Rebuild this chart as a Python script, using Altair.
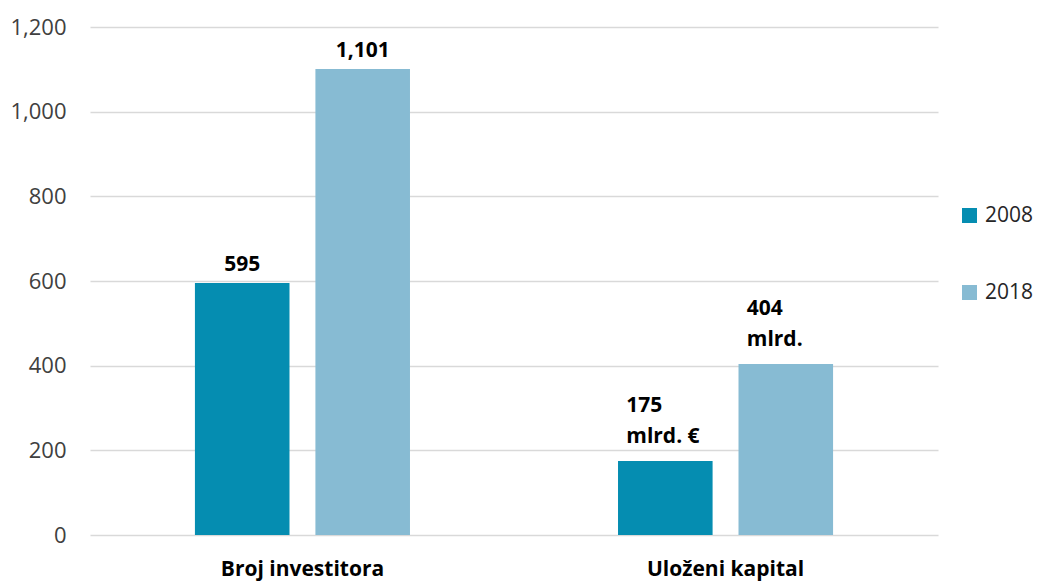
import altair as alt
import pandas as pd

categories = ["Broj investitora", "Uloženi kapital"]
years = ["2008", "2018"]
values_2008 = [595, 175]
values_2018 = [1101, 404]
labels_2008 = ["595", "175\nmlrd. €"]
labels_2018 = ["1,101", "404\nmlrd."]
colors = ["#058db1", "#87bbd3"]
y_ticks = [0, 200, 400, 600, 800, 1000, 1200]

rows = []
for i, c in enumerate(categories):
    rows.append({"cat": c, "year": years[0], "value": values_2008[i], "label": labels_2008[i]})
    rows.append({"cat": c, "year": years[1], "value": values_2018[i], "label": labels_2018[i]})
df = pd.DataFrame(rows)
df["multi"] = df["label"].str.contains("\n")

FONT = "Open Sans"

base = alt.Chart(df).encode(
    x=alt.X(
        "cat:N",
        sort=categories,
        scale=alt.Scale(paddingInner=0.4917, paddingOuter=0.248),
        axis=alt.Axis(
            title=None, labelAngle=0, domain=False, ticks=False, grid=False,
            labelFont=FONT, labelFontWeight="bold", labelFontSize=21,
            labelColor="black", labelPadding=23, labelBaseline="top",
        ),
    ),
    xOffset=alt.XOffset("year:N", sort=years, scale=alt.Scale(paddingInner=0.215)),
    y=alt.Y(
        "value:Q",
        scale=alt.Scale(domain=[0, 1200], nice=False),
        axis=alt.Axis(
            title=None, values=y_ticks, format=",d", domain=False, ticks=False,
            gridColor="#d9d9d9", gridWidth=1.5, labelPadding=24,
            labelFont=FONT, labelFontSize=22, labelColor="#404040",
        ),
    ),
)

bars = base.mark_bar().encode(
    color=alt.Color(
        "year:N",
        sort=years,
        scale=alt.Scale(domain=years, range=colors),
        legend=alt.Legend(
            title=None, orient="none", legendX=869, legendY=178,
            symbolType="square", symbolSize=225, symbolStrokeWidth=0,
            labelFont=FONT, labelFontSize=21, labelColor="#262626",
            labelOffset=5, rowPadding=55, padding=0,
        ),
    )
)

single = base.transform_filter("!datum.multi").mark_text(
    baseline="bottom", dy=-8, font=FONT, fontWeight="bold", fontSize=21, color="black"
).encode(text="label:N")

multi = base.transform_filter("datum.multi").mark_text(
    align="left", baseline="bottom", dx=-39, dy=-45, lineBreak="\n", lineHeight=31,
    font=FONT, fontWeight="bold", fontSize=21, color="black"
).encode(text="label:N")

chart = (
    alt.layer(bars, single, multi)
    .properties(
        width=848, height=508,
        background="white",
        padding={"left": 82, "top": 19, "right": 95, "bottom": 46},
        autosize=alt.AutoSizeParams(type="none"),
    )
    .configure_view(stroke=None, strokeWidth=0)
)

chart.save("out.html", embed_options={"renderer": "svg", "actions": False})
